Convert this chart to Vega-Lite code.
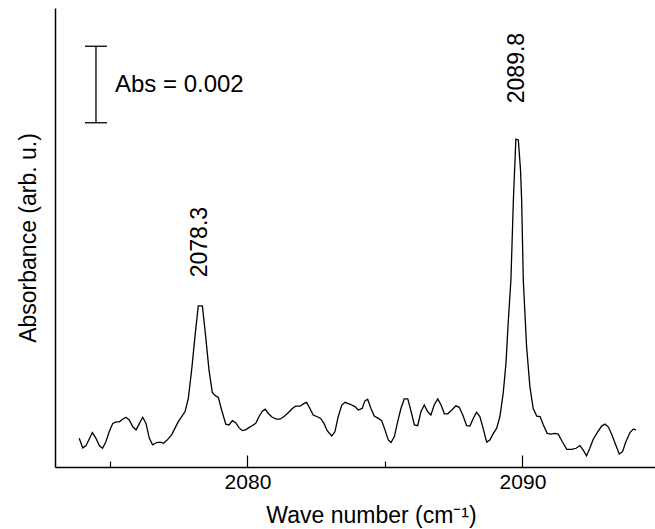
{
  "$schema": "https://vega.github.io/schema/vega-lite/v6.json",
  "width": 600,
  "height": 459,
  "autosize": {"type": "none"},
  "padding": {"left": 55, "top": 8, "right": 0, "bottom": 62},
  "background": "white",
  "config": {
    "view": {"stroke": null},
    "font": "Liberation Sans",
    "axis": {
      "domainColor": "black", "domainWidth": 1.5,
      "tickColor": "black", "tickWidth": 1.2,
      "labelColor": "black", "titleColor": "black",
      "labelFont": "Liberation Sans", "titleFont": "Liberation Sans",
      "titleFontWeight": "normal", "grid": false
    }
  },
  "datasets": {
    "spectrum": [
      {"wn": 2073.88, "abs": 0.00075}, {"wn": 2074.01, "abs": 0.00050}, {"wn": 2074.13, "abs": 0.00056},
      {"wn": 2074.36, "abs": 0.00090}, {"wn": 2074.49, "abs": 0.00075}, {"wn": 2074.61, "abs": 0.00056},
      {"wn": 2074.73, "abs": 0.00049}, {"wn": 2074.85, "abs": 0.00066}, {"wn": 2074.97, "abs": 0.00092},
      {"wn": 2075.10, "abs": 0.00114}, {"wn": 2075.22, "abs": 0.00118}, {"wn": 2075.34, "abs": 0.00118},
      {"wn": 2075.46, "abs": 0.00125}, {"wn": 2075.58, "abs": 0.00130}, {"wn": 2075.70, "abs": 0.00123},
      {"wn": 2075.83, "abs": 0.00105}, {"wn": 2075.95, "abs": 0.00097}, {"wn": 2076.07, "abs": 0.00114},
      {"wn": 2076.19, "abs": 0.00130}, {"wn": 2076.31, "abs": 0.00114}, {"wn": 2076.43, "abs": 0.00075},
      {"wn": 2076.55, "abs": 0.00058}, {"wn": 2076.70, "abs": 0.00064}, {"wn": 2076.82, "abs": 0.00065},
      {"wn": 2076.94, "abs": 0.00062}, {"wn": 2077.06, "abs": 0.00069}, {"wn": 2077.24, "abs": 0.00084},
      {"wn": 2077.48, "abs": 0.00118}, {"wn": 2077.73, "abs": 0.00145}, {"wn": 2077.85, "abs": 0.00180},
      {"wn": 2077.97, "abs": 0.00254}, {"wn": 2078.09, "abs": 0.00341}, {"wn": 2078.21, "abs": 0.00421},
      {"wn": 2078.36, "abs": 0.00421}, {"wn": 2078.48, "abs": 0.00341}, {"wn": 2078.60, "abs": 0.00254},
      {"wn": 2078.72, "abs": 0.00195}, {"wn": 2078.84, "abs": 0.00186}, {"wn": 2078.94, "abs": 0.00182},
      {"wn": 2079.06, "abs": 0.00149}, {"wn": 2079.21, "abs": 0.00112}, {"wn": 2079.33, "abs": 0.00110},
      {"wn": 2079.45, "abs": 0.00121}, {"wn": 2079.57, "abs": 0.00116}, {"wn": 2079.69, "abs": 0.00103},
      {"wn": 2079.81, "abs": 0.00095}, {"wn": 2079.93, "abs": 0.00097}, {"wn": 2080.05, "abs": 0.00103},
      {"wn": 2080.17, "abs": 0.00108}, {"wn": 2080.30, "abs": 0.00114}, {"wn": 2080.42, "abs": 0.00132},
      {"wn": 2080.54, "abs": 0.00146}, {"wn": 2080.64, "abs": 0.00151}, {"wn": 2080.76, "abs": 0.00140},
      {"wn": 2080.90, "abs": 0.00130}, {"wn": 2081.06, "abs": 0.00125}, {"wn": 2081.18, "abs": 0.00125},
      {"wn": 2081.33, "abs": 0.00132}, {"wn": 2081.48, "abs": 0.00142}, {"wn": 2081.63, "abs": 0.00153},
      {"wn": 2081.75, "abs": 0.00159}, {"wn": 2081.91, "abs": 0.00159}, {"wn": 2082.03, "abs": 0.00165},
      {"wn": 2082.15, "abs": 0.00169}, {"wn": 2082.27, "abs": 0.00153}, {"wn": 2082.39, "abs": 0.00136},
      {"wn": 2082.52, "abs": 0.00132}, {"wn": 2082.66, "abs": 0.00127}, {"wn": 2082.78, "abs": 0.00114},
      {"wn": 2082.90, "abs": 0.00095}, {"wn": 2083.06, "abs": 0.00081}, {"wn": 2083.18, "abs": 0.00092},
      {"wn": 2083.30, "abs": 0.00132}, {"wn": 2083.43, "abs": 0.00162}, {"wn": 2083.55, "abs": 0.00169},
      {"wn": 2083.73, "abs": 0.00164}, {"wn": 2083.91, "abs": 0.00158}, {"wn": 2084.03, "abs": 0.00149},
      {"wn": 2084.17, "abs": 0.00153}, {"wn": 2084.27, "abs": 0.00173}, {"wn": 2084.37, "abs": 0.00177},
      {"wn": 2084.49, "abs": 0.00153}, {"wn": 2084.61, "abs": 0.00133}, {"wn": 2084.76, "abs": 0.00127},
      {"wn": 2084.88, "abs": 0.00121}, {"wn": 2085.00, "abs": 0.00097}, {"wn": 2085.12, "abs": 0.00071},
      {"wn": 2085.22, "abs": 0.00064}, {"wn": 2085.34, "abs": 0.00079}, {"wn": 2085.46, "abs": 0.00118},
      {"wn": 2085.58, "abs": 0.00153}, {"wn": 2085.70, "abs": 0.00178}, {"wn": 2085.83, "abs": 0.00178},
      {"wn": 2085.95, "abs": 0.00145}, {"wn": 2086.07, "abs": 0.00110}, {"wn": 2086.19, "abs": 0.00108},
      {"wn": 2086.31, "abs": 0.00145}, {"wn": 2086.43, "abs": 0.00162}, {"wn": 2086.55, "abs": 0.00145},
      {"wn": 2086.67, "abs": 0.00136}, {"wn": 2086.79, "abs": 0.00162}, {"wn": 2086.92, "abs": 0.00178},
      {"wn": 2087.04, "abs": 0.00162}, {"wn": 2087.16, "abs": 0.00139}, {"wn": 2087.28, "abs": 0.00139},
      {"wn": 2087.43, "abs": 0.00149}, {"wn": 2087.58, "abs": 0.00160}, {"wn": 2087.70, "abs": 0.00156},
      {"wn": 2087.83, "abs": 0.00136}, {"wn": 2087.97, "abs": 0.00108}, {"wn": 2088.09, "abs": 0.00107},
      {"wn": 2088.21, "abs": 0.00127}, {"wn": 2088.33, "abs": 0.00143}, {"wn": 2088.45, "abs": 0.00132},
      {"wn": 2088.57, "abs": 0.00101}, {"wn": 2088.70, "abs": 0.00065}, {"wn": 2088.82, "abs": 0.00071},
      {"wn": 2088.94, "abs": 0.00088}, {"wn": 2089.06, "abs": 0.00101}, {"wn": 2089.18, "abs": 0.00132},
      {"wn": 2089.30, "abs": 0.00193}, {"wn": 2089.40, "abs": 0.00271}, {"wn": 2089.48, "abs": 0.00376},
      {"wn": 2089.58, "abs": 0.00489}, {"wn": 2089.67, "abs": 0.00698}, {"wn": 2089.76, "abs": 0.00857},
      {"wn": 2089.85, "abs": 0.00855}, {"wn": 2089.93, "abs": 0.00776}, {"wn": 2089.97, "abs": 0.00698},
      {"wn": 2090.03, "abs": 0.00489}, {"wn": 2090.15, "abs": 0.00315}, {"wn": 2090.27, "abs": 0.00210},
      {"wn": 2090.39, "abs": 0.00153}, {"wn": 2090.52, "abs": 0.00133}, {"wn": 2090.64, "abs": 0.00132},
      {"wn": 2090.76, "abs": 0.00110}, {"wn": 2090.90, "abs": 0.00088}, {"wn": 2091.03, "abs": 0.00086},
      {"wn": 2091.18, "abs": 0.00088}, {"wn": 2091.30, "abs": 0.00086}, {"wn": 2091.45, "abs": 0.00066},
      {"wn": 2091.61, "abs": 0.00046}, {"wn": 2091.79, "abs": 0.00046}, {"wn": 2091.95, "abs": 0.00049},
      {"wn": 2092.09, "abs": 0.00056}, {"wn": 2092.21, "abs": 0.00044}, {"wn": 2092.33, "abs": 0.00029},
      {"wn": 2092.45, "abs": 0.00049}, {"wn": 2092.57, "abs": 0.00072}, {"wn": 2092.72, "abs": 0.00090},
      {"wn": 2092.88, "abs": 0.00107}, {"wn": 2093.00, "abs": 0.00112}, {"wn": 2093.12, "abs": 0.00105},
      {"wn": 2093.24, "abs": 0.00086}, {"wn": 2093.39, "abs": 0.00058}, {"wn": 2093.52, "abs": 0.00034},
      {"wn": 2093.64, "abs": 0.00040}, {"wn": 2093.76, "abs": 0.00066}, {"wn": 2093.91, "abs": 0.00090},
      {"wn": 2094.03, "abs": 0.00099}, {"wn": 2094.13, "abs": 0.00097}
    ],
    "scalebar": [{"wn": 2074.49, "y1": 0.009, "y2": 0.011}],
    "caps": [
      {"wn1": 2074.09, "wn2": 2074.89, "abs": 0.009},
      {"wn1": 2074.09, "wn2": 2074.89, "abs": 0.011}
    ],
    "scaletext": [{"wn": 2075.18, "abs": 0.0100, "label": "Abs = 0.002"}],
    "peaks": [
      {"wn": 2078.27, "abs": 0.00588, "label": "2078.3"},
      {"wn": 2089.80, "abs": 0.01043, "label": "2089.8"}
    ]
  },
  "resolve": {"axis": {"x": "independent"}},
  "layer": [
    {
      "data": {"name": "spectrum"},
      "mark": {"type": "line", "color": "black", "strokeWidth": 1.3},
      "encoding": {
        "x": {
          "field": "wn", "type": "quantitative",
          "scale": {"domain": [2073, 2094.82], "nice": false, "zero": false},
          "axis": {
            "orient": "bottom", "values": [2080, 2090], "format": "d",
            "tickSize": -12, "labelFontSize": 21, "labelPadding": 16,
            "title": "Wave number (cm⁻¹)", "titleFontSize": 23,
            "titleX": 316, "titleY": 55, "titleBaseline": "alphabetic", "titleAnchor": null, "titleAlign": "center"
          }
        },
        "y": {
          "field": "abs", "type": "quantitative",
          "scale": {"domain": [0, 0.012], "nice": false, "zero": false},
          "axis": {
            "title": "Absorbance (arb. u.)", "titleFontSize": 23, "titlePadding": 15,
            "ticks": false, "labels": false, "domain": true
          }
        }
      }
    },
    {
      "data": {"name": "scalebar"},
      "mark": {"type": "rule", "color": "black", "strokeWidth": 1.3},
      "encoding": {
        "x": {
          "field": "wn", "type": "quantitative",
          "axis": {
            "orient": "bottom", "values": [2075, 2085], "tickSize": -6,
            "labels": false, "domain": false, "title": null
          }
        },
        "y": {"field": "y1", "type": "quantitative"},
        "y2": {"field": "y2"}
      }
    },
    {
      "data": {"name": "caps"},
      "mark": {"type": "rule", "color": "black", "strokeWidth": 1.3},
      "encoding": {
        "x": {"field": "wn1", "type": "quantitative", "axis": null},
        "x2": {"field": "wn2"},
        "y": {"field": "abs", "type": "quantitative"}
      }
    },
    {
      "mark": {"type": "rule", "color": "black", "strokeWidth": 1.5},
      "encoding": {
        "y": {"datum": 0.012, "type": "quantitative"}
      }
    },
    {
      "data": {"name": "scaletext"},
      "mark": {"type": "text", "align": "left", "baseline": "middle", "fontSize": 24, "color": "black"},
      "encoding": {
        "x": {"field": "wn", "type": "quantitative", "axis": null},
        "y": {"field": "abs", "type": "quantitative"},
        "text": {"field": "label"}
      }
    },
    {
      "data": {"name": "peaks"},
      "mark": {"type": "text", "align": "center", "baseline": "middle", "angle": 270, "fontSize": 23, "color": "black"},
      "encoding": {
        "x": {"field": "wn", "type": "quantitative", "axis": null},
        "y": {"field": "abs", "type": "quantitative"},
        "text": {"field": "label"}
      }
    }
  ]
}
